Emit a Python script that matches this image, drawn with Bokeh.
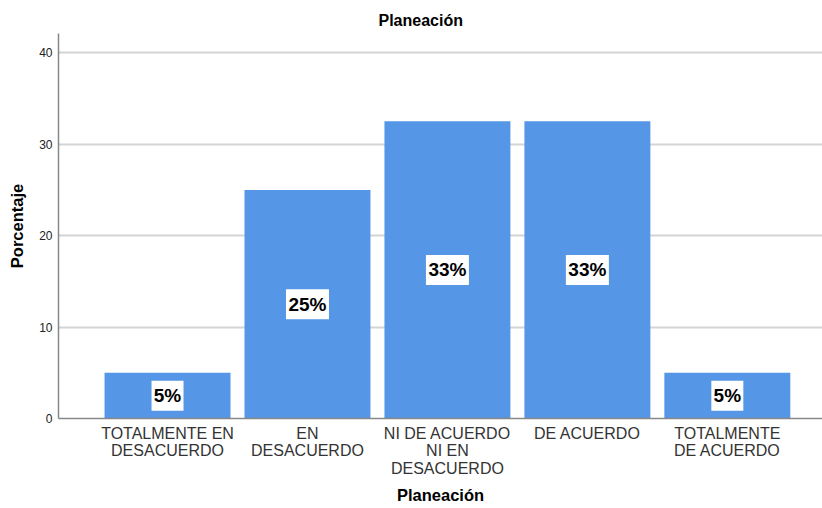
from bokeh.plotting import figure
from bokeh.models import ColumnDataSource, FixedTicker, Range1d
from bokeh.embed import file_html
from bokeh.resources import INLINE
from bokeh.core.properties import value

categories = ["TOTALMENTE EN\nDESACUERDO", "EN\nDESACUERDO", "NI DE ACUERDO\nNI EN\nDESACUERDO", "DE ACUERDO", "TOTALMENTE\nDE ACUERDO"]
values = [5.0, 25.0, 32.5, 32.5, 5.0]
labels = ["5%", "25%", "33%", "33%", "5%"]
y_ticks = [0, 10, 20, 30, 40]

xs = list(range(1, len(categories) + 1))
src = ColumnDataSource(dict(x=xs, top=values, mid=[v / 2 for v in values], lab=labels,
                            bw=[11 * len(s) + 10 for s in labels]))

p = figure(width=822, height=508, output_backend="svg", toolbar_location=None,
           x_range=Range1d(0.221, 5.68), y_range=Range1d(0, 42.1),
           min_border_left=58, min_border_right=0, min_border_top=33, min_border_bottom=90,
           title="Planeación")
p.outline_line_color = None
p.background_fill_color = "white"
p.border_fill_color = "white"

p.title.align = "left"
p.title.offset = 320
p.title.text_font = "Liberation Sans"
p.title.text_font_size = "16px"
p.title.text_font_style = "bold"
p.title.text_color = "#000000"

p.vbar(x="x", top="top", bottom=0, width=0.9, source=src, fill_color="#5596E6", line_color=None)

p.rect(x="x", y="mid", width="bw", height=30, width_units="screen", height_units="screen",
       source=src, fill_color="white", line_color=None)
p.text(x="x", y="mid", text="lab", source=src, text_align="center", text_baseline="middle",
       text_font=value("Liberation Sans"), text_font_size="19px", text_font_style="bold",
       text_color="#000000")

p.xgrid.visible = False
p.ygrid.ticker = FixedTicker(ticks=y_ticks[1:])
p.ygrid.grid_line_color = "#d4d4d4"
p.ygrid.grid_line_width = 2

p.xaxis.ticker = FixedTicker(ticks=xs)
p.xaxis.major_label_overrides = {x: c for x, c in zip(xs, categories)}
p.xaxis.major_tick_line_color = None
p.xaxis.major_tick_out = 0
p.xaxis.major_tick_in = 0
p.xaxis.minor_tick_line_color = None
p.xaxis.axis_line_color = "#888888"
p.xaxis.axis_line_width = 1.5
p.xaxis.major_label_text_font = "Liberation Sans"
p.xaxis.major_label_text_font_size = "16px"
p.xaxis.major_label_text_line_height = 1.05
p.xaxis.major_label_text_color = "#333333"
p.xaxis.major_label_standoff = 6
p.xaxis.axis_label = "Planeación"
p.xaxis.axis_label_text_font = "Liberation Sans"
p.xaxis.axis_label_text_font_size = "16.5px"
p.xaxis.axis_label_text_font_style = "bold"
p.xaxis.axis_label_text_color = "#000000"
p.xaxis.axis_label_standoff = 6

p.yaxis.ticker = FixedTicker(ticks=y_ticks)
p.yaxis.major_tick_line_color = None
p.yaxis.major_tick_out = 0
p.yaxis.major_tick_in = 0
p.yaxis.minor_tick_line_color = None
p.yaxis.axis_line_color = "#888888"
p.yaxis.axis_line_width = 1.5
p.yaxis.major_label_text_font = "Liberation Sans"
p.yaxis.major_label_text_font_size = "12px"
p.yaxis.major_label_text_color = "#222222"
p.yaxis.major_label_standoff = 6
p.yaxis.axis_label = "Porcentaje"
p.yaxis.axis_label_text_font = "Liberation Sans"
p.yaxis.axis_label_text_font_size = "16.5px"
p.yaxis.axis_label_text_font_style = "bold"
p.yaxis.axis_label_text_color = "#000000"
p.yaxis.axis_label_standoff = 10

open("out.html", "w").write(file_html(p, INLINE))
